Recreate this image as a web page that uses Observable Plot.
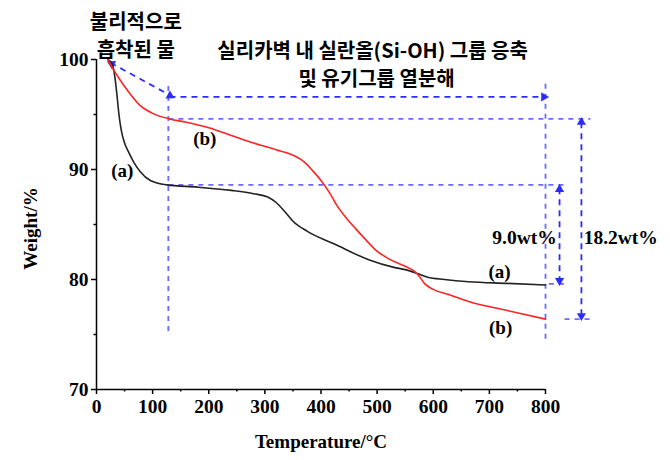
<!DOCTYPE html>
<html><head><meta charset="utf-8">
<script src="https://cdn.jsdelivr.net/npm/d3@7"></script>
<script src="https://cdn.jsdelivr.net/npm/@observablehq/plot@0.6"></script>
<style>body{margin:0;background:#fff}</style>
</head><body><div id="chart"></div>
<script>
// Curve (a): black
const tempA   = [20, 28, 33, 37, 40, 44, 50, 57, 66, 78, 96, 125, 180, 240, 280, 305, 320, 335, 350, 375, 425, 485, 530, 550, 569, 590, 620, 663, 730, 800];
const weightA = [100, 99.6, 98.3, 96.5, 95, 93.6, 92.4, 91.6, 90.7, 89.8, 89.0, 88.6, 88.4, 88.1, 87.8, 87.5, 87.0, 86.2, 85.3, 84.4, 83.2, 81.8, 81.1, 80.9, 80.6, 80.2, 80.0, 79.8, 79.65, 79.5];
// Curve (b): red
const tempB   = [20, 30, 40, 55, 78, 100, 130, 160, 200, 240, 280, 320, 350, 370, 385, 400, 415, 430, 445, 462, 480, 497, 520, 550, 565, 575, 585, 600, 630, 663, 730, 800];
const weightB = [100, 99.1, 98.3, 97.2, 95.8, 95.1, 94.6, 94.3, 93.8, 93.1, 92.4, 91.8, 91.3, 90.7, 89.9, 89.0, 87.9, 86.6, 85.6, 84.6, 83.6, 82.7, 81.9, 81.2, 80.8, 80.3, 79.6, 79.1, 78.6, 78.0, 77.2, 76.4];

const xTicks = [0, 100, 200, 300, 400, 500, 600, 700, 800];
const xMinor = [50, 150, 250, 350, 450, 550, 650, 750];
const yTicks = [70, 80, 90, 100];
const yMinor = [75, 85, 95];

// Annotation guide lines (data units)
const hGuideY  = [94.6, 88.6, 79.6, 76.4];
const hGuideX1 = [128, 128, 806, 834];
const hGuideX2 = [880, 840, 840, 880];
const vGuideX  = [128, 800];
const vGuideY1 = [97.6, 97.8];
const vGuideY2 = [74.9, 74.4];
// Arrow shafts
const arrX1 = [25, 130, 825, 864];
const arrY1 = [99.7, 96.6, 88.3, 94.3];
const arrX2 = [133, 797, 825, 864];
const arrY2 = [96.7, 96.6, 79.9, 76.7];
// Arrow heads (position + rotation in degrees)
const headX = [27, 131, 797, 825, 825, 864, 864];
const headY = [99.6, 96.7, 96.6, 88.2, 79.9, 94.3, 76.7];
const headR = [-62, 118, 90, 0, 180, 0, 180];

// Text labels
const seriesLabels = ["(a)", "(b)", "(a)", "(b)"];
const seriesLabX = [46, 193, 718, 720];
const seriesLabY = [89.9, 92.8, 80.7, 75.6];
const wtLabels = ["9.0wt%", "18.2wt%"];
const wtX = [820, 868];
const wtY = [83.8, 83.8];
const korLines = ["불리적으로", "흡착된 물", "실리카벽 내 실란올(Si-OH) 그룹 응축", "및 유기그룹 열분해"];
const korX = [70, 70, 492, 499];
const korY = [103.4, 100.85, 100.7, 98.15];

const idx = (a) => a.map((_, i) => i);
const lineA = tempA.map((t, i) => ({t, w: weightA[i]}));
const lineB = tempB.map((t, i) => ({t, w: weightB[i]}));

const serif = "Liberation Serif";
const lightBlue = "#6a6aff";
const darkBlue = "#2b2bff";

const plot = Plot.plot({
  width: 670, height: 460,
  marginLeft: 96, marginRight: 125, marginTop: 59, marginBottom: 71,
  x: {domain: [0, 800]},
  y: {domain: [70, 100]},
  style: {fontFamily: serif, fontSize: "18px", fontWeight: "bold", background: "white", color: "black"},
  marks: [
    // guides
    Plot.link(idx(hGuideY), {x1: i => hGuideX1[i], x2: i => hGuideX2[i], y1: i => hGuideY[i], y2: i => hGuideY[i], stroke: lightBlue, strokeWidth: 1.8, strokeDasharray: "5,5"}),
    Plot.link(idx(vGuideX), {x1: i => vGuideX[i], x2: i => vGuideX[i], y1: i => vGuideY1[i], y2: i => vGuideY2[i], stroke: lightBlue, strokeWidth: 1.8, strokeDasharray: "5,5"}),
    Plot.link(idx(arrX1), {x1: i => arrX1[i], x2: i => arrX2[i], y1: i => arrY1[i], y2: i => arrY2[i], stroke: darkBlue, strokeWidth: 1.8, strokeDasharray: "6,5"}),
    Plot.dot(idx(headX), {x: i => headX[i], y: i => headY[i], rotate: i => headR[i], symbol: "triangle", r: 3.4, fill: darkBlue, stroke: null}),
    // curves
    Plot.line(lineA, {x: "t", y: "w", stroke: "#222", strokeWidth: 1.6, curve: "monotone-x"}),
    Plot.line(lineB, {x: "t", y: "w", stroke: "#ff2424", strokeWidth: 1.6, curve: "monotone-x"}),
    // axes
    Plot.ruleY([70], {stroke: "black", strokeWidth: 1.5}),
    Plot.ruleX([0], {stroke: "black", strokeWidth: 1.5}),
    Plot.axisX({ticks: xTicks, tickSize: 5, tickPadding: 5, tickFormat: d => d, label: null, strokeWidth: 1.5, fontFamily: serif, fontSize: 19.5, fontWeight: "bold"}),
    Plot.axisX({ticks: xMinor, tickSize: 2.5, tickFormat: () => "", label: null, strokeWidth: 1.5}),
    Plot.axisY({ticks: yTicks, tickSize: 5, tickPadding: 3, tickFormat: d => d, label: null, strokeWidth: 1.5, fontFamily: serif, fontSize: 19.5, fontWeight: "bold"}),
    Plot.axisY({ticks: yMinor, tickSize: 2.5, tickFormat: () => "", label: null, strokeWidth: 1.5}),
    Plot.text(["Temperature/°C"], {frameAnchor: "bottom", dy: 52, lineAnchor: "middle", textAnchor: "middle", fontSize: 19, fontWeight: "bold", fontFamily: serif}),
    Plot.text(["Weight/%"], {frameAnchor: "left", dx: -66, dy: 4, rotate: -90, textAnchor: "middle", lineAnchor: "middle", fontSize: 19, fontWeight: "bold", fontFamily: serif}),
    // labels
    Plot.text(idx(seriesLabels), {x: i => seriesLabX[i], y: i => seriesLabY[i], text: i => seriesLabels[i], fontSize: 19, fontWeight: "bold", fontFamily: serif}),
    Plot.text([0], {x: () => wtX[0], y: () => wtY[0], text: () => wtLabels[0], textAnchor: "end", fontSize: 19.5, fontWeight: "bold", fontFamily: serif}),
    Plot.text([1], {x: () => wtX[1], y: () => wtY[1], text: () => wtLabels[1], textAnchor: "start", fontSize: 19.5, fontWeight: "bold", fontFamily: serif}),
    Plot.text(idx(korLines), {x: i => korX[i], y: i => korY[i], text: i => korLines[i], fontSize: 20, fontWeight: "bold", fontFamily: "Noto Sans CJK KR"})
  ]
});
document.getElementById("chart").appendChild(plot);
</script>
</body></html>
